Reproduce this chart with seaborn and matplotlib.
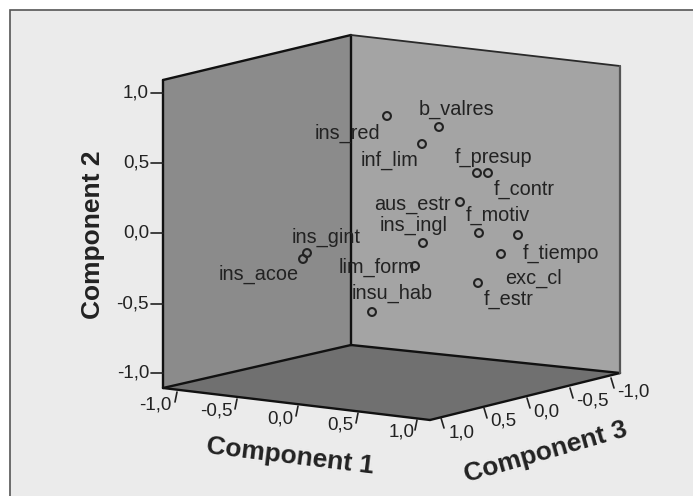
import matplotlib
matplotlib.use("Agg")
import matplotlib.pyplot as plt
import seaborn as sns
import pandas as pd
from matplotlib.patches import Polygon, Rectangle

# Screen projection of the 3D loading plot (horizontal, vertical)
names = ["ins_red", "b_valres", "inf_lim", "f_presup", "f_contr", "aus_estr", "f_motiv",
         "f_tiempo", "ins_ingl", "ins_gint", "ins_acoe", "lim_form", "exc_cl", "f_estr", "insu_hab"]
proj_x = [387, 439, 422, 477, 488, 460, 479, 518, 423, 307, 303, 415, 501, 478, 372]
proj_y = [116, 127, 144, 173, 173, 202, 233, 235, 243, 253, 259, 266, 254, 283, 312]
label_x = [347, 457, 390, 494, 524, 412, 498, 561, 414, 326, 259, 377, 534, 509, 392]
label_y = [133, 109, 160, 157, 189, 204, 215, 253, 225, 237, 274, 267, 278, 299, 293]

tick_labels = ["-1,0", "-0,5", "0,0", "0,5", "1,0"]
y_tick_pos = [373, 304, 233, 163, 93]
c1_tick_x = [177, 237, 298, 358, 417]
c1_tick_y = [392, 399, 406, 413, 420]
c1_label_x = [155, 216, 280, 340, 402]
c1_label_y = [405, 411, 419, 425, 432]
c3_tick_x = [441, 484, 527, 570, 611]
c3_tick_y = [418, 408, 398, 388, 378]
c3_label_x = [462, 503, 546, 592, 633]
c3_label_y = [433, 421, 412, 401, 392]

left_wall = [(163, 80), (351, 35), (351, 345), (163, 388)]
right_wall = [(351, 35), (620, 66), (620, 373), (351, 345)]
floor = [(163, 388), (351, 345), (620, 373), (430, 420)]

sns.set_theme(style="white")
plt.rcParams["font.family"] = ["Liberation Sans", "DejaVu Sans"]

fig = plt.figure(figsize=(6.93, 4.96), dpi=100, facecolor="white")
ax = fig.add_axes([0, 0, 1, 1])
ax.set_xlim(0, 693)
ax.set_ylim(496, 0)
ax.axis("off")

ax.add_patch(Rectangle((10, 10), 700, 500, fc="#ebebeb", ec="#555555", lw=1.2, zorder=0))
ax.add_patch(Polygon(left_wall, fc="#8b8b8b", ec="none", zorder=1))
ax.add_patch(Polygon(right_wall, fc="#a4a4a4", ec="none", zorder=1))
ax.add_patch(Polygon(floor, fc="#707070", ec="none", zorder=1))

edge = dict(color="#111111", lw=1.7, zorder=2, solid_capstyle="round")
for a, b in [(left_wall[0], left_wall[3]), (left_wall[0], left_wall[1]), (left_wall[1], left_wall[2]),
             (floor[0], floor[1]), (floor[1], floor[2]), (floor[0], floor[3]), (floor[3], floor[2])]:
    ax.plot([a[0], b[0]], [a[1], b[1]], **edge)
ax.plot([right_wall[0][0], right_wall[1][0]], [right_wall[0][1], right_wall[1][1]],
        color="#2a2a2a", lw=1.3, zorder=2)
ax.plot([right_wall[1][0], right_wall[2][0]], [right_wall[1][1], right_wall[2][1]],
        color="#555555", lw=1.6, zorder=2)

tick = dict(color="#222222", lw=1.2, zorder=2)
txt = dict(fontsize=13.5, color="#222222", ha="center", va="center", zorder=5)
for lab, y in zip(tick_labels, y_tick_pos):
    ax.plot([151, 163], [y, y], **tick)
    ax.text(149, y, lab, fontsize=13.5, color="#222222", ha="right", va="center", zorder=5)
for lab, x, y, lx, ly in zip(tick_labels, c1_tick_x, c1_tick_y, c1_label_x, c1_label_y):
    ax.plot([x, x - 2], [y, y + 10], **tick)
    ax.text(lx, ly, lab, **txt)
for lab, x, y, lx, ly in zip(tick_labels[::-1], c3_tick_x, c3_tick_y, c3_label_x, c3_label_y):
    ax.plot([x, x + 3], [y, y + 10], **tick)
    ax.text(lx, ly, lab, **txt)

df = pd.DataFrame({"x": proj_x, "y": proj_y})
sns.scatterplot(data=df, x="x", y="y", ax=ax, s=32, marker="o", facecolor="none",
                edgecolor="#222222", linewidth=1.5, zorder=4, legend=False)
ax.set_xlim(0, 693)
ax.set_ylim(496, 0)
ax.axis("off")

for n, x, y in zip(names, label_x, label_y):
    ax.text(x, y, n, fontsize=14.3, color="#222222", ha="center", va="center", zorder=5)

title = dict(fontsize=19, fontweight="bold", color="#222222", ha="center", va="center",
             rotation_mode="anchor", zorder=5)
ax.text(93, 235, "Component 2", rotation=90, **title)
ax.text(290, 456, "Component 1", rotation=-7, **title)
ax.text(546, 452, "Component 3", rotation=16, **title)

fig.savefig("out.png", dpi=100, facecolor="white")
